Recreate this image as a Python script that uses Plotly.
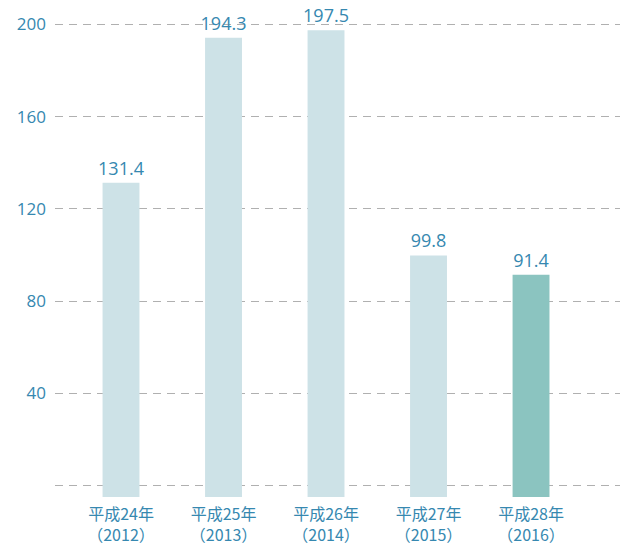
import plotly.graph_objects as go

categories = ["平成24年<br>（2012）", "平成25年<br>（2013）", "平成26年<br>（2014）", "平成27年<br>（2015）", "平成28年<br>（2016）"]
values = [131.4, 194.3, 197.5, 99.8, 91.4]
colors = ["#cde2e7", "#cde2e7", "#cde2e7", "#cde2e7", "#8bc4c0"]
tick_vals = [0, 40, 80, 120, 160, 200]
tick_text = ["", "40", "80", "120", "160", "200"]

base_val = -5
blue = "#3688b0"
font_family = "Open Sans, Noto Sans CJK JP, sans-serif"
cjk_family = "Noto Sans CJK JP, sans-serif"

fig = go.Figure()
fig.add_trace(go.Bar(
    x=list(range(len(categories))),
    y=[v - base_val for v in values],
    base=base_val,
    width=0.36,
    marker=dict(color=colors, line=dict(width=0)),
    text=[f"{v:.1f}" for v in values],
    textposition="outside",
    constraintext="none",
    textfont=dict(size=18, color=blue, family=font_family),
    cliponaxis=False,
    hoverinfo="skip",
))

fig.update_layout(
    width=629, height=545,
    margin=dict(l=55, r=9, t=13, b=48),
    paper_bgcolor="white", plot_bgcolor="white",
    showlegend=False,
    font=dict(family=font_family, color=blue),
    xaxis=dict(
        range=[-0.644, 4.868],
        tickvals=list(range(len(categories))),
        ticktext=categories,
        showgrid=False, zeroline=False, showline=False,
        automargin=False,
        ticks="", ticklabelstandoff=6,
        tickfont=dict(size=16, color=blue, family=cjk_family),
    ),
    yaxis=dict(
        range=[-5, 205],
        tickvals=tick_vals, ticktext=tick_text,
        showgrid=True, gridcolor="#b0b0b0", griddash="8px,6px", gridwidth=1,
        zeroline=False, showline=False,
        automargin=False,
        ticks="", ticklabelstandoff=8,
        tickfont=dict(size=17, color=blue),
    ),
)

fig.write_html(
    "out.html",
    config={"displayModeBar": False},
    post_script="document.body.style.margin='0';document.body.style.overflow='hidden';",
)
